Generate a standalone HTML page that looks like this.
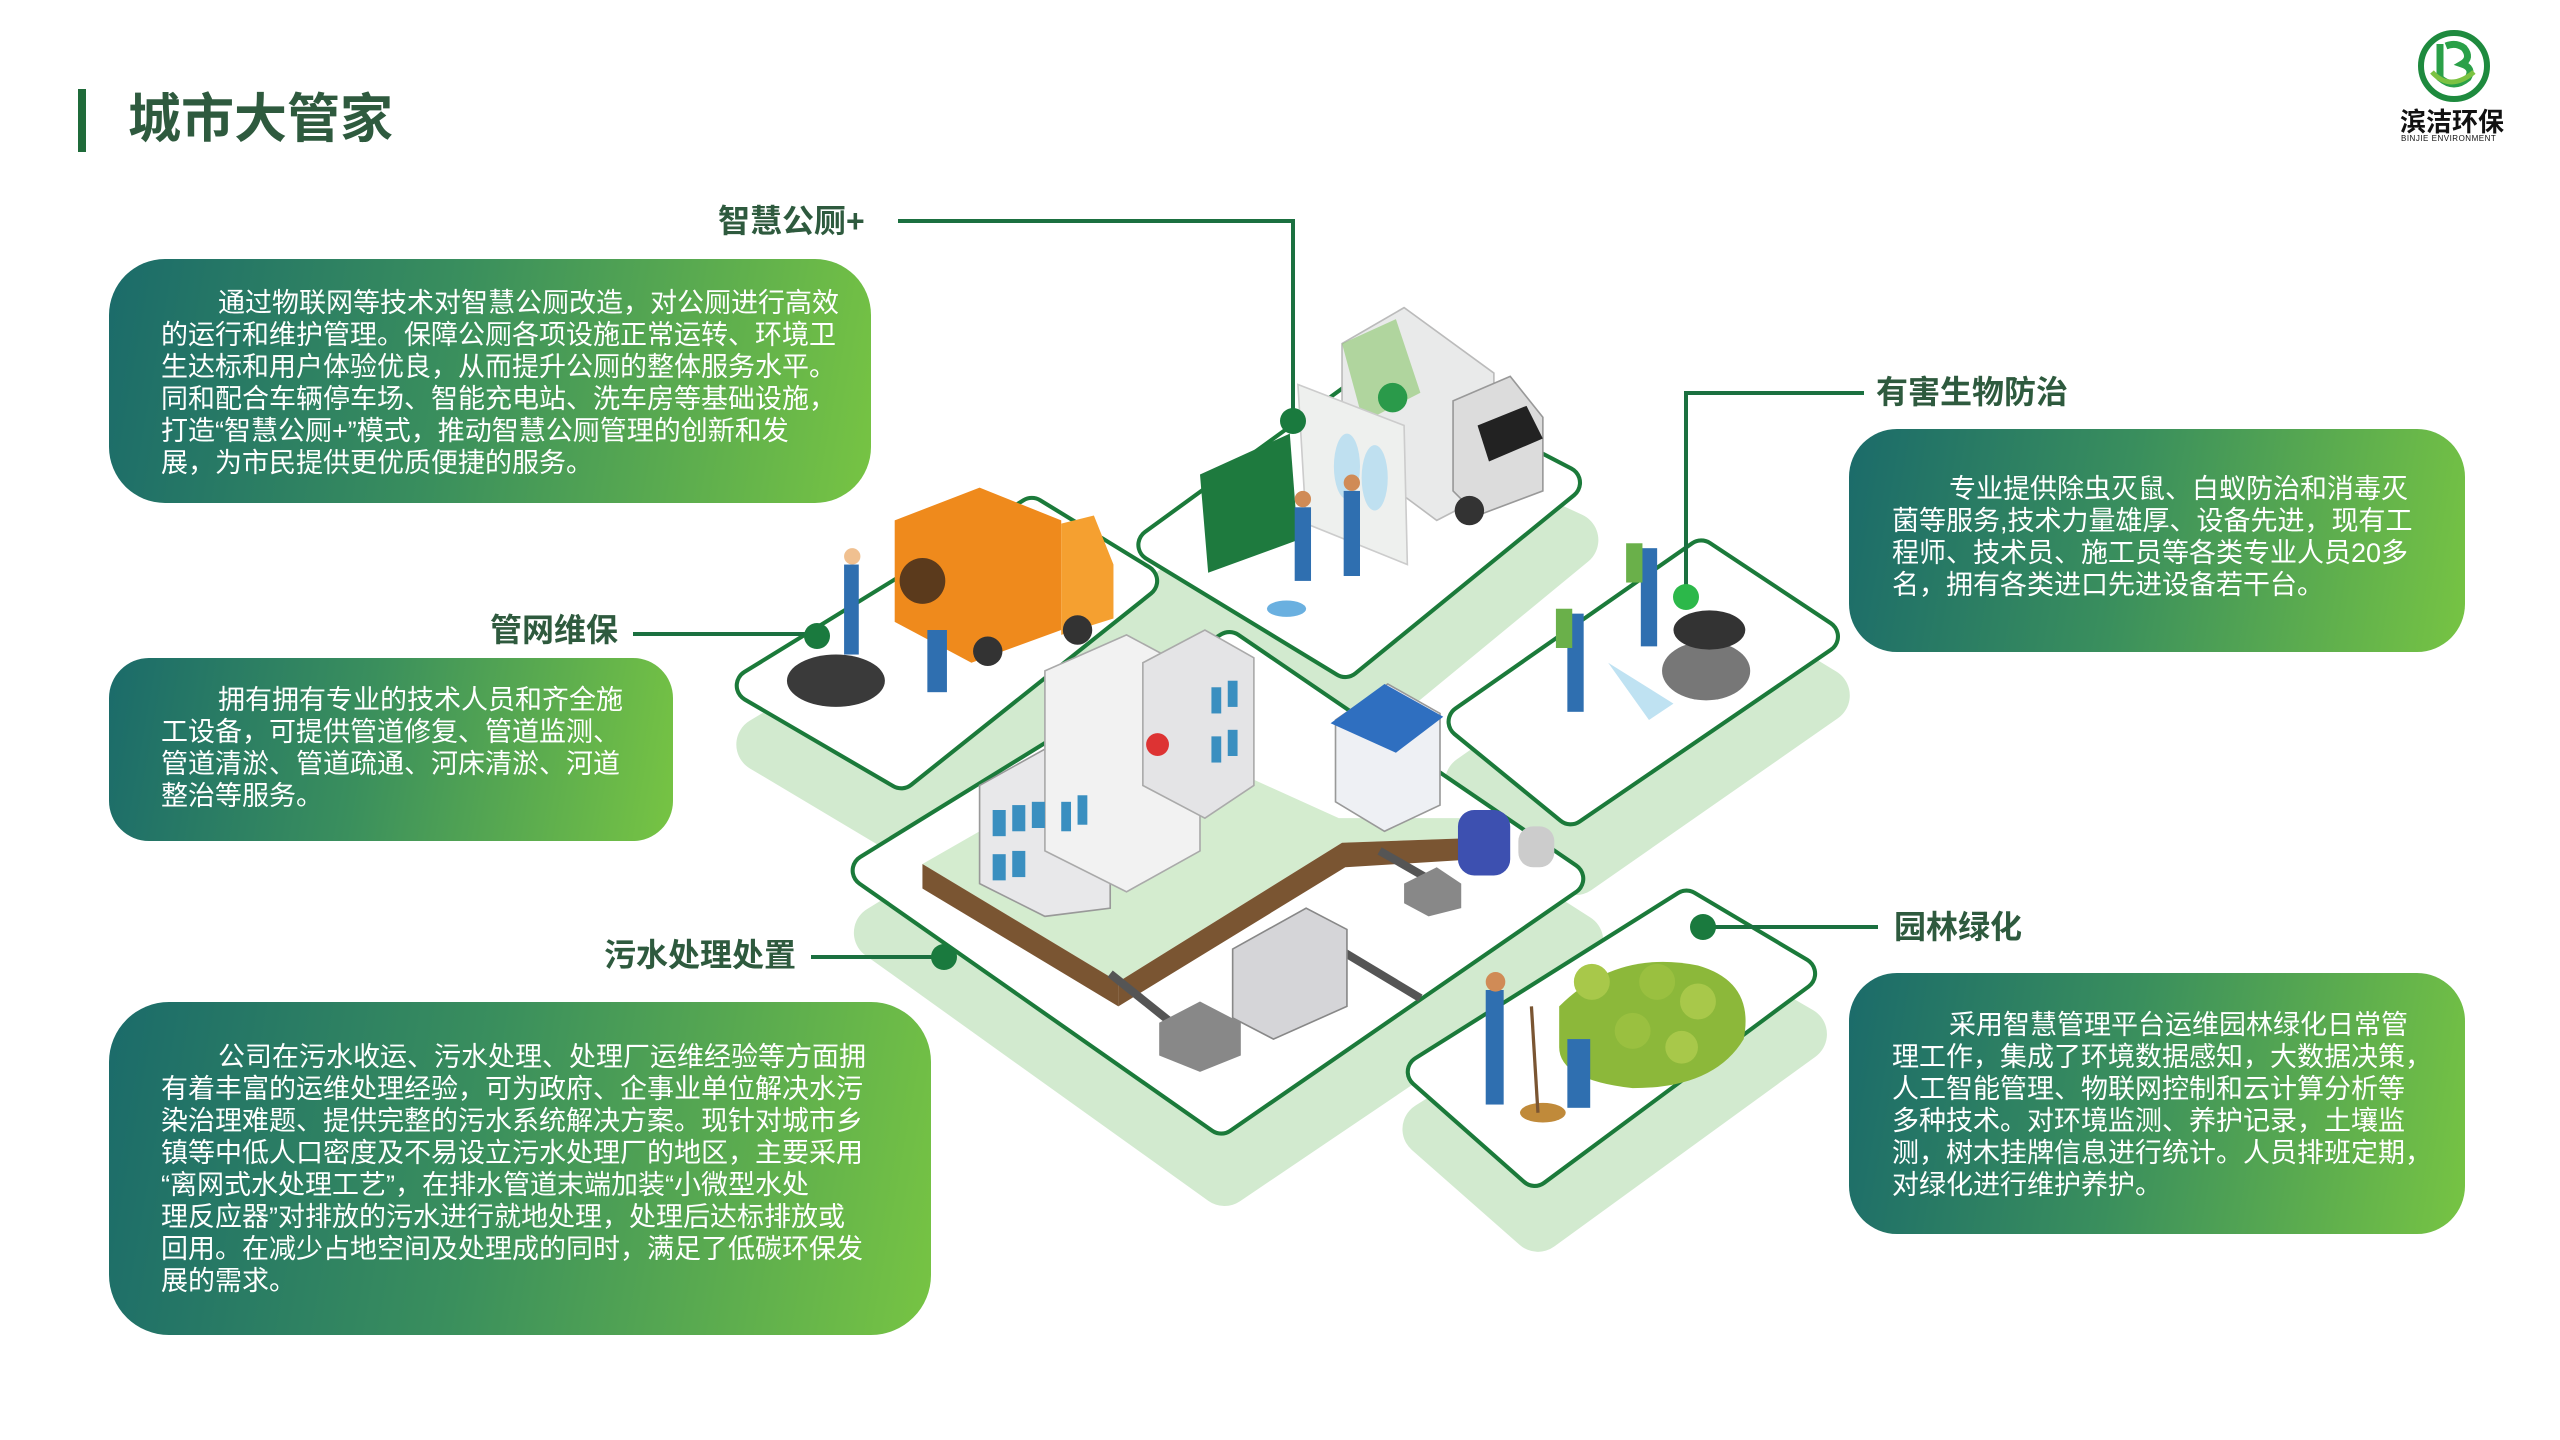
<!DOCTYPE html>
<html><head><meta charset="utf-8">
<style>
*{margin:0;padding:0;box-sizing:border-box}
body{width:2560px;height:1440px;background:#fff;position:relative;overflow:hidden;font-family:"Liberation Sans","Noto Sans CJK SC",sans-serif}
.abs{position:absolute}
.box{position:absolute;border-radius:56px;background:linear-gradient(100deg,#1b6b6a 0%,#3a8f5d 45%,#77c443 100%)}
.txt{position:absolute;color:#fff;font-size:27px;line-height:32px;white-space:nowrap}
.lbl{position:absolute;color:#2e5a3e;font-weight:bold;font-size:32px;line-height:34px;white-space:nowrap}
.ind{padding-left:57px}
</style></head><body>

<div class="abs" style="left:78px;top:89px;width:8px;height:63px;background:#1f6b3a"></div>
<div class="abs" style="left:128px;top:90px;font-size:53px;line-height:60px;font-weight:bold;color:#2e5a3e">城市大管家</div>

<svg class="abs" style="left:2410px;top:28px" width="90" height="80" viewBox="0 0 90 80">
<circle cx="44" cy="38" r="33" fill="none" stroke="#1e8a3e" stroke-width="6"/>
<path d="M30 16 L30 50 Q44 62 58 50 Q64 40 52 36 Q62 30 54 20 Q46 14 36 18" fill="none" stroke="#2aa048" stroke-width="7"/>
<path d="M22 44 Q40 64 64 44" fill="none" stroke="#7cc242" stroke-width="5"/>
</svg>
<div class="abs" style="left:2400px;top:108px;font-size:26px;font-weight:bold;color:#111;line-height:28px">滨洁环保</div>
<div class="abs" style="left:2401px;top:134px;font-size:8px;color:#111;letter-spacing:0.5px">BINJIE ENVIRONMENT</div>

<svg class="abs" style="left:0;top:0" width="2560" height="1440" viewBox="0 0 1568 880" preserveAspectRatio="none">
<g fill="#d2eacf" stroke="#d2eacf" stroke-width="34" stroke-linejoin="round">
<polygon points="468,455 635,355 705,395 552,505"/>
<polygon points="712,368 842,275 962,330 828,440"/>
<polygon points="902,478 1042,380 1116,425 965,530"/>
<polygon points="876,690 1033,592 1102,632 942,748"/>
<polygon points="540,570 753,440 965,575 750,720"/>
</g>
<g fill="#1b7a3a" stroke="#1b7a3a" stroke-width="22" stroke-linejoin="round">
<polygon points="461,419 632,314 699,355 552,472"/>
<polygon points="707,333 842,235 958,295 824,404"/>
<polygon points="897,441 1042,340 1116,389 962,494"/>
<polygon points="872,655 1033,554 1102,595 940,715"/>
<polygon points="532,532 753,396 960,537 748,683"/>
</g>
<g fill="#fff" stroke="#fff" stroke-width="17" stroke-linejoin="round">
<polygon points="461,419 632,314 699,355 552,472"/>
<polygon points="707,333 842,235 958,295 824,404"/>
<polygon points="897,441 1042,340 1116,389 962,494"/>
<polygon points="872,655 1033,554 1102,595 940,715"/>
<polygon points="532,532 753,396 960,537 748,683"/>
</g>
<polygon points="565,528 705,448 820,500 905,500 905,512 822,515 685,600" fill="#d4eccf"/>
<polygon points="565,528 685,600 685,615 565,543" fill="#7a5532"/>
<polygon points="685,600 822,515 905,512 905,525 824,530 685,615" fill="#7a5532"/>
<polygon points="600,480 645,455 680,475 680,555 640,560 600,540" fill="#e8e8ea" stroke="#999" stroke-width="1"/>
<polygon points="640,410 690,388 735,412 735,520 690,545 640,520" fill="#f2f2f2" stroke="#aaa" stroke-width="1"/>
<polygon points="700,405 738,385 768,402 768,480 738,500 700,480" fill="#e4e4e6" stroke="#aaa" stroke-width="1"/>
<circle cx="709" cy="455" r="7" fill="#d33"/>
<g fill="#3a8fc0"><rect x="608" y="495" width="8" height="16"/><rect x="620" y="492" width="8" height="16"/><rect x="632" y="490" width="8" height="16"/><rect x="608" y="522" width="8" height="16"/><rect x="620" y="520" width="8" height="16"/><rect x="650" y="490" width="6" height="18"/><rect x="660" y="486" width="6" height="18"/><rect x="742" y="420" width="6" height="16"/><rect x="752" y="416" width="6" height="16"/><rect x="742" y="450" width="6" height="16"/><rect x="752" y="446" width="6" height="16"/></g>
<polygon points="818,440 850,418 882,436 882,492 848,508 818,490" fill="#eef0f4" stroke="#999" stroke-width="1"/>
<polygon points="815,442 848,418 884,438 855,460" fill="#2f6fc0"/>
<line x1="680" y1="595" x2="730" y2="635" stroke="#555" stroke-width="5"/>
<line x1="820" y1="580" x2="870" y2="610" stroke="#555" stroke-width="5"/>
<line x1="845" y1="520" x2="880" y2="540" stroke="#555" stroke-width="5"/>
<polygon points="710,625 735,612 760,625 760,645 735,655 710,645" fill="#888"/>
<polygon points="755,580 800,555 825,568 825,615 780,635 755,622" fill="#d5d5d8" stroke="#888" stroke-width="1"/>
<polygon points="860,540 880,530 895,540 895,555 875,560 860,552" fill="#888"/>
<rect x="893" y="495" width="32" height="40" rx="10" fill="#3d50b0"/>
<rect x="930" y="505" width="22" height="25" rx="9" fill="#ccc"/>
<polygon points="548,318 600,298 650,318 650,385 595,405 548,380" fill="#ef8a1c"/>
<polygon points="650,320 670,315 682,345 682,378 650,388" fill="#f5a030"/>
<circle cx="565" cy="355" r="14" fill="#5b3a1c"/>
<circle cx="605" cy="398" r="9" fill="#333"/><circle cx="660" cy="385" r="9" fill="#333"/>
<ellipse cx="512" cy="416" rx="30" ry="16" fill="#3a3a3a"/>
<rect x="517" y="345" width="9" height="55" fill="#2f6fb0"/><circle cx="522" cy="340" r="5" fill="#f0c090"/>
<rect x="568" y="385" width="12" height="38" fill="#2f6fb0"/>
<polygon points="822,210 860,188 915,228 915,300 880,318 822,275" fill="#e9eaea" stroke="#bbb" stroke-width="1"/>
<polygon points="822,210 855,195 870,240 835,258" fill="#8ac66a" opacity="0.6"/>
<polygon points="890,245 925,230 945,255 945,300 905,315 890,300" fill="#dcdcdc" stroke="#999" stroke-width="1"/>
<polygon points="905,260 935,248 945,268 912,282" fill="#222"/>
<circle cx="853" cy="243" r="9" fill="#2a9a4a"/>
<circle cx="900" cy="312" r="9" fill="#333"/>
<polygon points="735,290 790,265 795,330 740,350" fill="#1e7a3e"/>
<polygon points="795,235 860,260 862,345 800,320" fill="#eef0ee" stroke="#ccc" stroke-width="1"/>
<ellipse cx="825" cy="285" rx="8" ry="20" fill="#bfe0f0"/><ellipse cx="842" cy="292" rx="8" ry="20" fill="#bfe0f0"/>
<rect x="793" y="310" width="10" height="45" fill="#2f6fb0"/><circle cx="798" cy="305" r="5" fill="#d08b56"/>
<rect x="823" y="300" width="10" height="52" fill="#2f6fb0"/><circle cx="828" cy="295" r="5" fill="#d08b56"/>
<ellipse cx="788" cy="372" rx="12" ry="5" fill="#6ab0e0"/>
<ellipse cx="1045" cy="410" rx="27" ry="18" fill="#777"/>
<ellipse cx="1047" cy="385" rx="22" ry="12" fill="#333"/>
<rect x="960" y="375" width="10" height="60" fill="#2f6fb0"/><rect x="953" y="372" width="10" height="24" fill="#6ab04a"/>
<rect x="1005" y="335" width="10" height="60" fill="#2f6fb0"/><rect x="996" y="332" width="10" height="24" fill="#6ab04a"/>
<polygon points="985,405 1025,430 1010,440" fill="#bfe2f2"/>
<path d="M955,615 Q990,580 1040,590 Q1075,600 1068,635 Q1050,665 1000,665 Q955,660 955,640 Z" fill="#8cb83a"/>
<circle cx="975" cy="600" r="11" fill="#a8c84a"/><circle cx="1015" cy="600" r="11" fill="#9ac040"/><circle cx="1040" cy="612" r="11" fill="#a8c84a"/><circle cx="1000" cy="630" r="11" fill="#9ac040"/><circle cx="1030" cy="640" r="10" fill="#a8c84a"/>
<rect x="910" y="605" width="11" height="70" fill="#2f6fb0"/><circle cx="916" cy="600" r="6" fill="#d08b56"/>
<rect x="960" y="635" width="14" height="42" fill="#2f6fb0"/>
<ellipse cx="945" cy="680" rx="14" ry="6" fill="#c08a3a"/>
<line x1="942" y1="680" x2="938" y2="615" stroke="#7a5532" stroke-width="2"/>
</svg>

<svg class="abs" style="left:0;top:0" width="2560" height="1440">
<g stroke="#1b7040" stroke-width="4" fill="none">
<polyline points="898,221 1293,221 1293,420"/>
<line x1="633" y1="634" x2="816" y2="634"/>
<line x1="811" y1="957" x2="944" y2="957"/>
<polyline points="1864,393 1686,393 1686,597"/>
<line x1="1878" y1="927" x2="1703" y2="927"/>
</g>
<g fill="#1a7a3e">
<circle cx="1293" cy="421" r="13"/><circle cx="817" cy="636" r="13"/><circle cx="944" cy="957" r="13"/><circle cx="1703" cy="927" r="13"/>
</g>
<circle cx="1686" cy="597" r="13" fill="#2cb84a"/>
</svg>

<div class="lbl" style="left:718px;top:204px">智慧公厕+</div>
<div class="lbl" style="left:490px;top:613px">管网维保</div>
<div class="lbl" style="left:604px;top:938px">污水处理处置</div>
<div class="lbl" style="left:1876px;top:375px">有害生物防治</div>
<div class="lbl" style="left:1894px;top:910px">园林绿化</div>

<div class="box" style="left:109px;top:259px;width:762px;height:244px"></div>
<div class="txt" style="left:161px;top:287px"><span class="ind">通过物联网等技术对智慧公厕改造，对公厕进行高效</span><br>的运行和维护管理。保障公厕各项设施正常运转、环境卫<br>生达标和用户体验优良，从而提升公厕的整体服务水平。<br>同和配合车辆停车场、智能充电站、洗车房等基础设施，<br>打造“智慧公厕+”模式，推动智慧公厕管理的创新和发<br>展，为市民提供更优质便捷的服务。</div>

<div class="box" style="left:109px;top:658px;width:564px;height:183px;border-radius:40px"></div>
<div class="txt" style="left:161px;top:684px"><span class="ind">拥有拥有专业的技术人员和齐全施</span><br>工设备，可提供管道修复、管道监测、<br>管道清淤、管道疏通、河床清淤、河道<br>整治等服务。</div>

<div class="box" style="left:109px;top:1002px;width:822px;height:333px;border-radius:60px"></div>
<div class="txt" style="left:161px;top:1041px"><span class="ind">公司在污水收运、污水处理、处理厂运维经验等方面拥</span><br>有着丰富的运维处理经验，可为政府、企事业单位解决水污<br>染治理难题、提供完整的污水系统解决方案。现针对城市乡<br>镇等中低人口密度及不易设立污水处理厂的地区，主要采用<br>“离网式水处理工艺”，在排水管道末端加装“小微型水处<br>理反应器”对排放的污水进行就地处理，处理后达标排放或<br>回用。在减少占地空间及处理成的同时，满足了低碳环保发<br>展的需求。</div>

<div class="box" style="left:1849px;top:429px;width:616px;height:223px;border-radius:48px"></div>
<div class="txt" style="left:1892px;top:473px"><span class="ind">专业提供除虫灭鼠、白蚁防治和消毒灭</span><br>菌等服务,技术力量雄厚、设备先进，现有工<br>程师、技术员、施工员等各类专业人员20多<br>名，拥有各类进口先进设备若干台。</div>

<div class="box" style="left:1849px;top:973px;width:616px;height:261px;border-radius:48px"></div>
<div class="txt" style="left:1892px;top:1009px"><span class="ind">采用智慧管理平台运维园林绿化日常管</span><br>理工作，集成了环境数据感知，大数据决策，<br>人工智能管理、物联网控制和云计算分析等<br>多种技术。对环境监测、养护记录，土壤监<br>测，树木挂牌信息进行统计。人员排班定期，<br>对绿化进行维护养护。</div>

</body></html>
